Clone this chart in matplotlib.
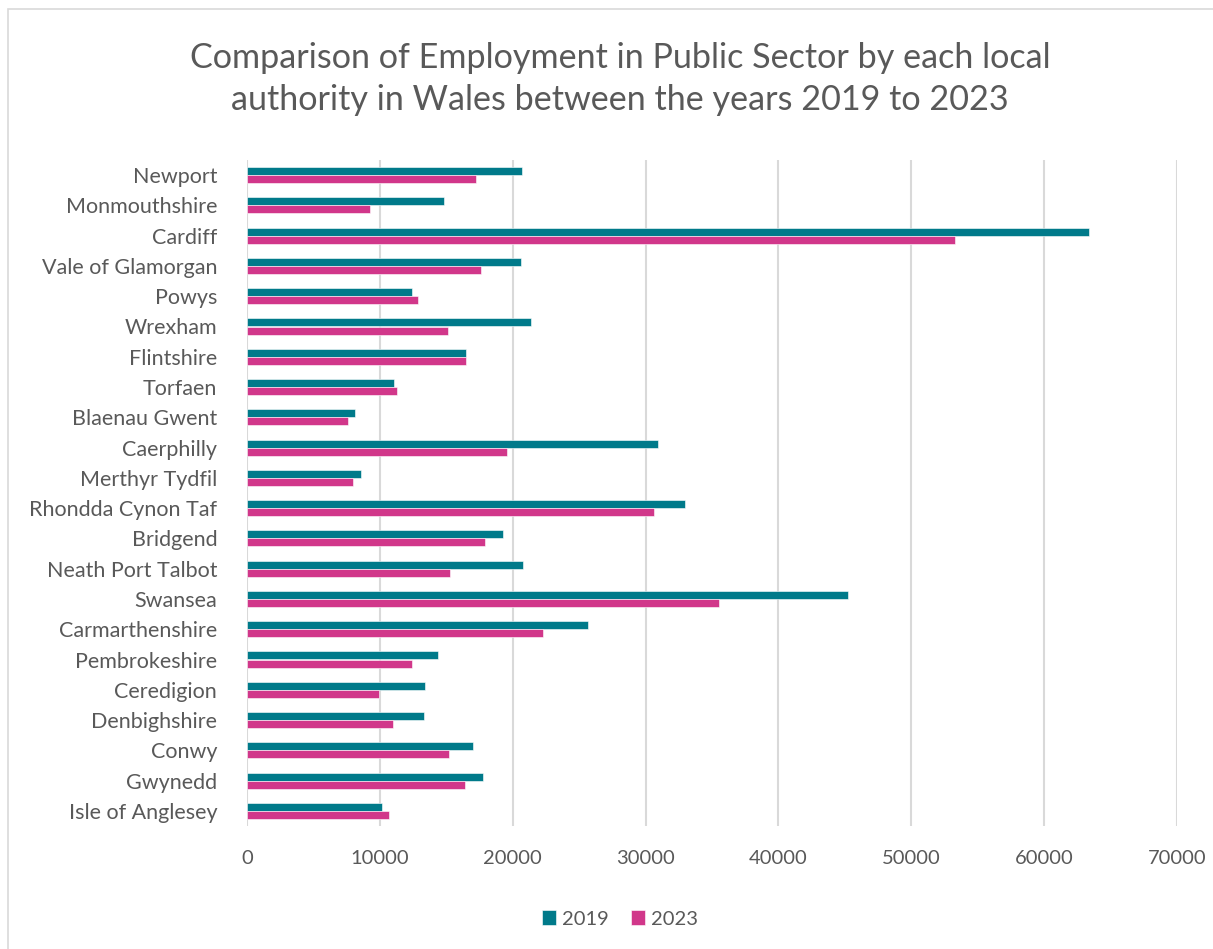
import matplotlib
matplotlib.use("Agg")
import matplotlib.pyplot as plt
import numpy as np
from matplotlib.patches import Rectangle

authorities = ["Newport", "Monmouthshire", "Cardiff", "Vale of Glamorgan", "Powys",
               "Wrexham", "Flintshire", "Torfaen", "Blaenau Gwent", "Caerphilly",
               "Merthyr Tydfil", "Rhondda Cynon Taf", "Bridgend", "Neath Port Talbot",
               "Swansea", "Carmarthenshire", "Pembrokeshire", "Ceredigion",
               "Denbighshire", "Conwy", "Gwynedd", "Isle of Anglesey"]
emp_2019 = [20700, 14800, 63400, 20600, 12400, 21400, 16500, 11100, 8100, 30950,
            8550, 32950, 19300, 20750, 45250, 25650, 14400, 13400, 13300, 17000,
            17800, 10150]
emp_2023 = [17200, 9250, 53300, 17600, 12900, 15100, 16500, 11300, 7600, 19600,
            8000, 30650, 17900, 15300, 35550, 22300, 12450, 9900, 11000, 15200,
            16400, 10700]
years = ["2019", "2023"]
xticks = [0, 10000, 20000, 30000, 40000, 50000, 60000, 70000]

teal = "#007A8A"
magenta = "#D1378A"
grey_text = "#595959"
FONT = "Lato"

fig = plt.figure(figsize=(12.13, 9.49), dpi=100)
fig.patches.append(Rectangle((8/1213, -0.05), 1.1, 1.05 - 9/949, transform=fig.transFigure,
                             fill=False, edgecolor="#D9D9D9", linewidth=1.2))
ax = fig.add_axes([247/1213, 1 - 826/949, (1177 - 247)/1213, (826 - 160)/949])

n = len(authorities)
y = np.arange(n)
h = 0.265
ax.barh(y - h/2, emp_2019, height=h, color=teal, edgecolor="white", linewidth=0.4,
        label=years[0], zorder=3)
ax.barh(y + h/2, emp_2023, height=h, color=magenta, edgecolor="white", linewidth=0.4,
        label=years[1], zorder=3)

ax.set_ylim(n - 0.5, -0.5)
ax.set_xlim(0, 70000)
ax.set_yticks(y)
ax.set_yticklabels(authorities, fontsize=15.5, color=grey_text, family=FONT)
ax.set_xticks(xticks)
ax.set_xticklabels([str(t) for t in xticks], fontsize=14.5, color=grey_text, family=FONT)
ax.tick_params(axis="y", length=0, pad=21.5)
ax.tick_params(axis="x", length=0, pad=17)
ax.grid(axis="x", color="#D9D9D9", linewidth=1.5, zorder=0)
for s in ax.spines.values():
    s.set_visible(False)

fig.text(620/1213, 1 - 79/949,
         "Comparison of Employment in Public Sector by each local\nauthority in Wales between the years 2019 to 2023",
         ha="center", va="center", fontsize=24.6, color=grey_text, family=FONT, linespacing=1.4)

leg = fig.legend(loc="center", bbox_to_anchor=(620/1213, 1 - 919/949), ncol=2, frameon=False,
                 prop={"family": FONT, "size": 14.5}, handlelength=0.7, handleheight=0.7,
                 columnspacing=1.1, handletextpad=0.3)
for t in leg.get_texts():
    t.set_color(grey_text)

fig.savefig("out.png", dpi=100, facecolor="white")
